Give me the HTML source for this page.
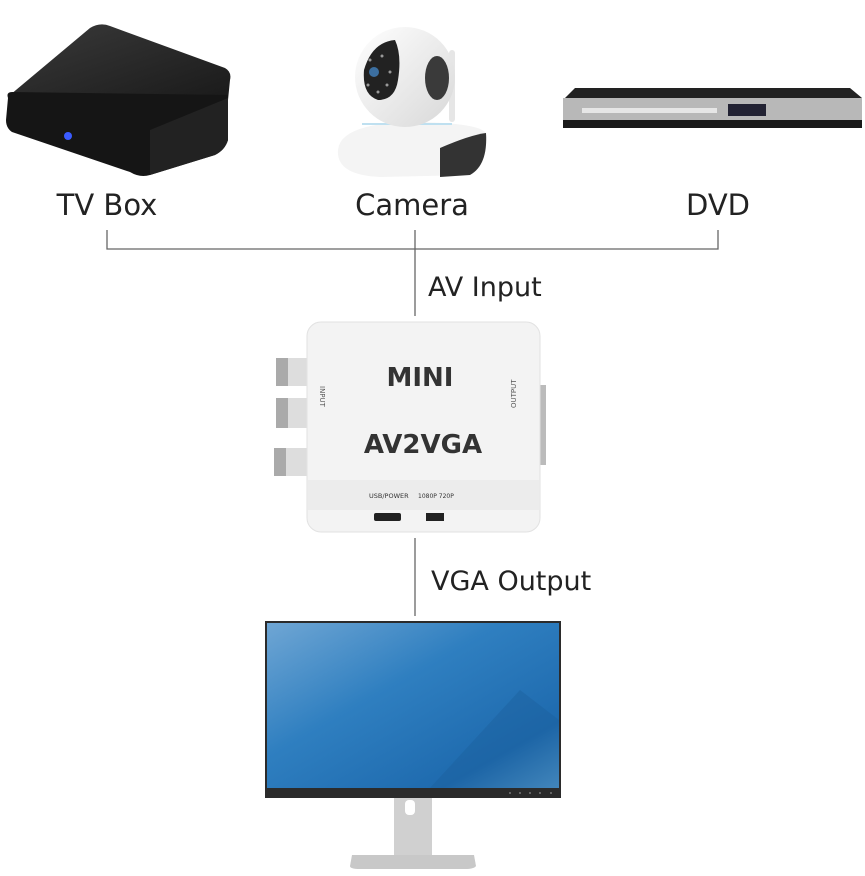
<!DOCTYPE html>
<html><head><style>
html,body{margin:0;padding:0;background:#fff;}
svg{display:block;}
text{font-family:"DejaVu Sans","Liberation Sans",sans-serif;}
</style></head><body>
<svg width="865" height="876" viewBox="0 0 865 876" xmlns="http://www.w3.org/2000/svg">
<defs>
<linearGradient id="scr" x1="0" y1="0" x2="1" y2="1">
<stop offset="0" stop-color="#6fa6d4"/><stop offset="0.4" stop-color="#2f7fc0"/><stop offset="0.8" stop-color="#1e6aae"/><stop offset="1" stop-color="#5c9fd0"/></linearGradient>
<linearGradient id="tvtop" x1="0" y1="0" x2="1" y2="1"><stop offset="0" stop-color="#3a3a3a"/><stop offset="1" stop-color="#1a1a1a"/></linearGradient>
<linearGradient id="cam" x1="0" y1="0" x2="1" y2="1"><stop offset="0" stop-color="#ffffff"/><stop offset="1" stop-color="#d8d8d8"/></linearGradient>
</defs>
<!-- TV box -->
<path d="M10 95 L90 28 Q100 22 110 26 L225 68 Q232 72 230 80 L228 100 L10 100 Z" fill="url(#tvtop)"/>
<path d="M8 98 Q6 92 12 92 L228 95 L228 140 Q225 150 215 155 L150 175 Q140 178 130 172 L12 132 Q6 128 6 120 Z" fill="#151515"/>
<path d="M150 130 L228 98 L228 140 Q225 150 215 155 L150 175 Z" fill="#222"/>
<circle cx="68" cy="136" r="4" fill="#3a5bff"/>
<!-- Camera -->
<rect x="449" y="50" width="6" height="72" rx="3" fill="#e6e6e6"/>
<path d="M338 150 Q340 125 405 122 Q478 122 486 133 Q488 165 470 175 L380 177 Q336 175 338 150Z" fill="#f4f4f4"/>
<path d="M440 148 Q470 135 486 133 Q488 165 470 175 L440 177 Z" fill="#333"/>
<line x1="362" y1="124" x2="452" y2="124" stroke="#bfe0f0" stroke-width="2"/>
<circle cx="405" cy="77" r="50" fill="url(#cam)"/>
<path d="M395 40 Q372 42 364 70 Q362 95 378 100 Q395 100 398 80 Q402 55 395 40Z" fill="#222"/>
<ellipse cx="437" cy="78" rx="12" ry="22" fill="#3a3a3a"/>
<circle cx="374" cy="72" r="5" fill="#3c6fa0"/>
<g fill="#999"><circle cx="370" cy="60" r="1.5"/><circle cx="382" cy="56" r="1.5"/><circle cx="390" cy="72" r="1.5"/><circle cx="387" cy="85" r="1.5"/><circle cx="378" cy="92" r="1.5"/><circle cx="368" cy="85" r="1.5"/></g>
<!-- DVD -->
<path d="M565 98 L575 88 L850 88 L862 98 Z" fill="#222"/>
<rect x="563" y="98" width="299" height="22" fill="#b8b8b8"/>
<rect x="563" y="120" width="299" height="8" fill="#1a1a1a"/>
<rect x="582" y="108" width="135" height="5" fill="#e6e6e6"/>
<rect x="728" y="104" width="38" height="12" fill="#223"/>
<!-- labels -->
<text x="107" y="215" font-size="29" text-anchor="middle" fill="#222">TV Box</text>
<text x="412" y="215" font-size="29" text-anchor="middle" fill="#222">Camera</text>
<text x="718" y="215" font-size="29" text-anchor="middle" fill="#222">DVD</text>
<g stroke="#666" stroke-width="1.3" fill="none">
<path d="M107 230 V249 H718 V230"/>
<path d="M415 230 V316"/>
<path d="M415 538 V616"/>
</g>
<text x="428" y="296" font-size="27" fill="#222">AV Input</text>
<text x="431" y="590" font-size="27" fill="#222">VGA Output</text>
<!-- converter -->
<g>
<rect x="276" y="358" width="35" height="28" fill="#ddd"/><rect x="276" y="398" width="35" height="30" fill="#ddd"/><rect x="274" y="448" width="35" height="28" fill="#ddd"/>
<rect x="276" y="358" width="12" height="28" fill="#aaa"/><rect x="276" y="398" width="12" height="30" fill="#aaa"/><rect x="274" y="448" width="12" height="28" fill="#aaa"/>
<rect x="536" y="385" width="10" height="80" fill="#bbb"/>
<rect x="307" y="322" width="233" height="210" rx="14" fill="#f3f3f3" stroke="#e2e2e2"/>
<rect x="308" y="480" width="231" height="30" fill="#ececec"/>
<text x="420" y="386" font-size="26" font-weight="bold" text-anchor="middle" fill="#333" font-family="Liberation Sans">MINI</text>
<text x="423" y="453" font-size="26" font-weight="bold" text-anchor="middle" fill="#333">AV2VGA</text>
<text x="320" y="386" font-size="7" fill="#555" transform="rotate(90 320 386)">INPUT</text>
<text x="516" y="408" font-size="7" fill="#555" transform="rotate(-90 516 408)">OUTPUT</text>
<text x="369" y="498" font-size="6.5" fill="#333">USB/POWER</text>
<text x="418" y="498" font-size="6" fill="#333">1080P  720P</text>
<rect x="374" y="513" width="27" height="8" rx="2" fill="#222"/>
<rect x="426" y="513" width="18" height="8" fill="#222"/>
</g>
<!-- monitor -->
<rect x="394" y="795" width="38" height="60" fill="#d0d0d0"/>
<rect x="405" y="800" width="10" height="15" rx="4" fill="#fff"/>
<path d="M352 855 L474 855 L476 866 Q474 869 465 869 L360 869 Q350 869 350 866Z" fill="#c8c8c8"/>
<rect x="265" y="621" width="296" height="177" fill="#2b2b2b"/>
<rect x="267" y="623" width="292" height="165" fill="url(#scr)"/>
<path d="M430 788 L520 690 L559 720 L559 788Z" fill="#1b5f9c" opacity="0.4"/>
<g fill="#777"><circle cx="510" cy="793" r="1"/><circle cx="520" cy="793" r="1"/><circle cx="530" cy="793" r="1"/><circle cx="540" cy="793" r="1"/><circle cx="551" cy="793" r="1"/></g>
</svg>
</body></html>
